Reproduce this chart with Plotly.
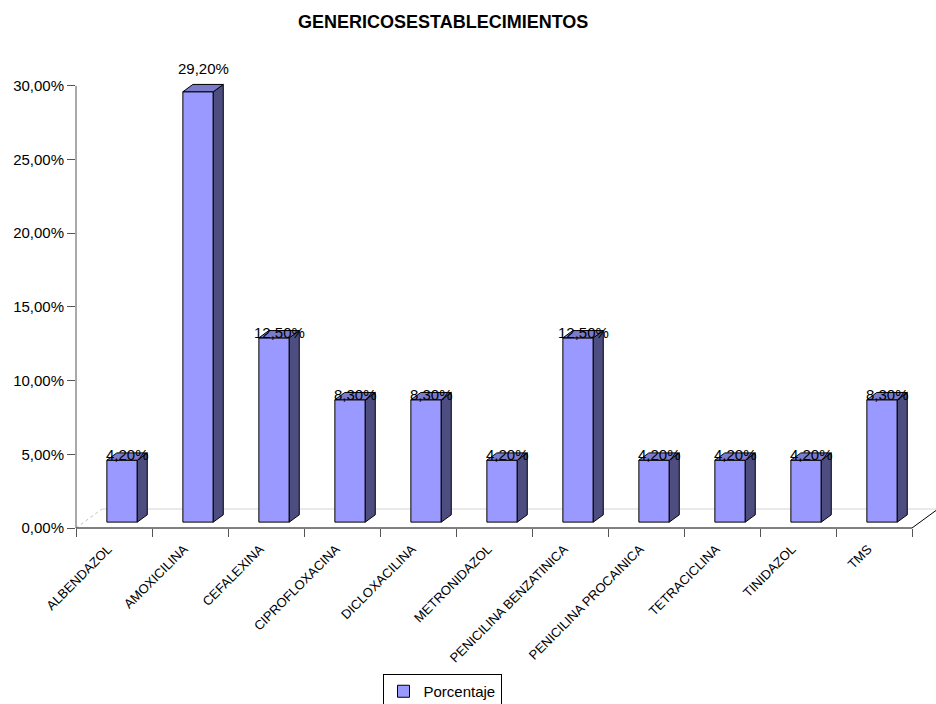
import plotly.graph_objects as go

# ---- data ----
categories = [
    "ALBENDAZOL", "AMOXICILINA", "CEFALEXINA", "CIPROFLOXACINA",
    "DICLOXACILINA", "METRONIDAZOL", "PENICILINA BENZATINICA",
    "PENICILINA PROCAINICA", "TETRACICLINA", "TINIDAZOL", "TMS",
]
porcentaje = [4.2, 29.2, 12.5, 8.3, 8.3, 4.2, 12.5, 4.2, 4.2, 4.2, 8.3]
value_labels = ["4,20%", "29,20%", "12,50%", "8,30%", "8,30%", "4,20%",
                "12,50%", "4,20%", "4,20%", "4,20%", "8,30%"]
y_ticks = [0, 5, 10, 15, 20, 25, 30]
y_tick_labels = ["0,00%", "5,00%", "10,00%", "15,00%", "20,00%", "25,00%", "30,00%"]

# ---- layout geometry ----
W, H = 936, 704
L, R, T, B = 76, 0, 77, 176
plot_w, plot_h = W - L - R, H - T - B
CAT_PX = 76                      # width of one category slot in px
x_max = plot_w / CAT_PX
y_max = 30.6
px_x = x_max / plot_w            # data units per pixel
px_y = y_max / plot_h

# oblique (3-D) depth of the floor, and where the bars sit inside it
fdx, fdy = 26 * px_x, 19 * px_y
ox, oy = 0.31 * fdx, 0.31 * fdy          # front face offset
bx, by = 0.385 * fdx, 0.385 * fdy        # bar depth
BAR_W = 0.4

FRONT, SIDE, TOP = "#9999FF", "#4D4D80", "#7B7BCC"
FONT = "Liberation Sans, Arial, sans-serif"

n = len(categories)
centers = [i + 0.5 + ox for i in range(n)]

side_x, side_y, top_x, top_y = [], [], [], []
for c, v in zip(centers, porcentaje):
    xl, xr = c - BAR_W / 2, c + BAR_W / 2
    y0, y1 = oy, v + oy
    side_x += [xr, xr + bx, xr + bx, xr, xr, None]
    side_y += [y0, y0 + by, y1 + by, y1, y0, None]
    top_x += [xl, xr, xr + bx, xl + bx, xl, None]
    top_y += [y1, y1, y1 + by, y1 + by, y1, None]

fig = go.Figure()
fig.add_trace(go.Bar(
    x=centers, y=porcentaje, base=oy, width=BAR_W, name="Porcentaje",
    marker=dict(color=FRONT, line=dict(color="black", width=1)),
    showlegend=True,
))
fig.add_trace(go.Scatter(
    x=side_x, y=side_y, mode="lines", fill="toself", fillcolor=SIDE,
    line=dict(color="black", width=1), showlegend=False, hoverinfo="skip",
))
fig.add_trace(go.Scatter(
    x=top_x, y=top_y, mode="lines", fill="toself", fillcolor=TOP,
    line=dict(color="black", width=1), showlegend=False, hoverinfo="skip",
))


def px(x):
    return x / x_max


def py(y):
    return y / y_max


shapes = [
    # floor: back edge, left dotted edge, right edge
    dict(type="line", xref="paper", yref="paper", x0=px(fdx), y0=py(fdy),
         x1=px(n + fdx), y1=py(fdy), line=dict(color="#D4D4D4", width=1), layer="below"),
    dict(type="line", xref="paper", yref="paper", x0=0, y0=0,
         x1=px(fdx), y1=py(fdy), line=dict(color="#C0C0C0", width=1, dash="dot"), layer="below"),
    dict(type="line", xref="paper", yref="paper", x0=px(n), y0=0,
         x1=px(n + fdx), y1=py(fdy), line=dict(color="black", width=1)),
    # axis lines
    dict(type="line", xref="paper", yref="paper", x0=0, y0=0,
         x1=px(n), y1=0, line=dict(color="black", width=1)),
    dict(type="line", xref="paper", yref="paper", x0=0, y0=0,
         x1=0, y1=py(30), line=dict(color="#555555", width=1)),
]

# value labels sit on the bar tops; the tallest one is lifted clear of its top face
v_max = max(porcentaje)
annotations = [
    dict(x=c + bx / 2, y=v + oy + by / 2, xref="x", yref="y", text=t,
         showarrow=False, yanchor="middle", yshift=20 if v == v_max else 2,
         font=dict(family=FONT, size=15, color="black"))
    for c, v, t in zip(centers, porcentaje, value_labels)
]
annotations.append(dict(
    text="<b>GENERICOSESTABLECIMIENTOS</b>", xref="paper", yref="paper",
    x=(443 - L) / plot_w, y=(plot_h + T - 22) / plot_h,
    xanchor="center", yanchor="middle", showarrow=False,
    font=dict(family=FONT, size=18, color="black"),
))

fig.update_layout(
    width=W, height=H,
    margin=dict(l=L, r=R, t=T, b=B, pad=0, autoexpand=False),
    paper_bgcolor="white", plot_bgcolor="white",
    shapes=shapes, annotations=annotations,
    xaxis=dict(
        range=[0, x_max], showgrid=False, zeroline=False, showline=False,
        automargin=False,
        tickmode="array", tickvals=[i + 0.5 for i in range(n)], ticktext=categories,
        ticks="", tickangle=-45, tickfont=dict(family=FONT, size=13, color="black"),
        ticklabelstandoff=10, ticklabelshift=-6,
        minor=dict(tickmode="array", tickvals=list(range(n + 1)), ticks="outside",
                   ticklen=8, tickcolor="#555555", tickwidth=1, showgrid=False),
    ),
    yaxis=dict(
        range=[0, y_max], showgrid=False, zeroline=False, showline=False,
        automargin=False,
        tickmode="array", tickvals=y_ticks, ticktext=y_tick_labels,
        ticks="outside", ticklen=8, tickcolor="#555555",
        tickfont=dict(family=FONT, size=15, color="black"),
    ),
    legend=dict(
        x=(442 - L) / plot_w, y=(T + plot_h - 674) / plot_h,
        xanchor="center", yanchor="top", orientation="h",
        bordercolor="black", borderwidth=1, bgcolor="white",
        font=dict(family=FONT, size=15, color="black"),
        itemwidth=30,
    ),
    showlegend=True,
)

fig.write_html("out.html")
